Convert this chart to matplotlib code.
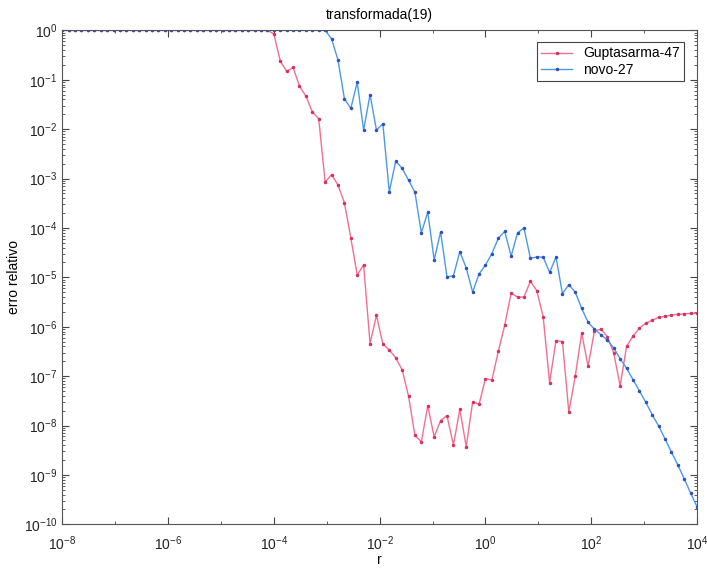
import numpy as np
import matplotlib
matplotlib.use("Agg")
import matplotlib.pyplot as plt
from matplotlib.ticker import LogLocator, NullFormatter

plt.rcParams['font.family'] = ['Liberation Sans', 'DejaVu Sans']
plt.rcParams['mathtext.fontset'] = 'custom'
plt.rcParams['mathtext.rm'] = 'Liberation Sans'
plt.rcParams['mathtext.it'] = 'Liberation Sans'
plt.rcParams['mathtext.default'] = 'regular'

# malha de r: 100 pontos de 1e-8 a 1e4
r = np.logspace(-8, 4, 100)

# log10 do erro relativo
log_gupta = [0.0] * 33 + [
    -0.07, -0.62, -0.83, -0.75, -1.13, -1.33, -1.65, -1.79,
    -3.07, -2.92, -3.13, -3.49, -4.2, -4.95, -4.75, -6.34, -5.77, -6.35,
    -6.47, -6.63, -6.87, -7.4, -8.2, -8.33, -7.6, -8.23, -7.9, -7.8,
    -8.4, -7.67, -8.43, -7.52, -7.57, -7.05, -7.08, -6.5, -5.97, -5.32,
    -5.4, -5.4, -5.08, -5.27, -5.8, -7.13, -6.28, -6.3, -7.73, -7.0,
    -6.13, -6.8, -6.08, -6.05, -6.2, -6.53, -7.2, -6.4, -6.19, -6.03,
    -5.93, -5.87, -5.81, -5.79, -5.76, -5.75, -5.74, -5.73, -5.73]

log_novo = [0.0] * 42 + [
    -0.17, -0.6, -1.38, -1.58, -1.05, -2.02, -1.3, -2.02, -1.89,
    -3.27, -2.65, -2.79, -3.03, -3.28, -4.1, -3.68, -4.65, -4.08, -4.99,
    -4.97, -4.48, -4.81, -5.3, -4.93, -4.75, -4.52, -4.21, -4.07, -4.57,
    -4.1, -4.0, -4.61, -4.59, -4.59, -4.9, -4.59, -5.33, -5.15, -5.3,
    -5.63, -5.91, -6.05, -6.16, -6.27, -6.43, -6.65, -6.84, -7.07, -7.3,
    -7.53, -7.78, -8.01, -8.27, -8.54, -8.8, -9.08, -9.37, -9.65]

err_gupta = 10.0 ** np.array(log_gupta)
err_novo = 10.0 ** np.array(log_novo)

fig = plt.figure(figsize=(7.07, 5.73), dpi=100)
ax = fig.add_axes([0.088, 0.085, 0.898, 0.862])

ax.loglog(r, err_gupta, '.-', color='#f27090', lw=1.0, ms=3,
          mfc='#d83060', mec='#d83060', label='Guptasarma-47')
ax.loglog(r, err_novo, '.-', color='#4a9ae8', lw=1.0, ms=3,
          mfc='#3050c0', mec='#3050c0', label='novo-27')

ax.set_xlim(1e-8, 1e4)
ax.set_ylim(1e-10, 1e0)
ax.set_xticks([1e-8, 1e-6, 1e-4, 1e-2, 1e0, 1e2, 1e4])
ax.xaxis.set_minor_locator(LogLocator(base=10, subs=(1.0,), numticks=30))
ax.xaxis.set_minor_formatter(NullFormatter())
ax.yaxis.set_major_locator(LogLocator(base=10, numticks=15))
ax.yaxis.set_minor_locator(LogLocator(base=10, subs=np.arange(2, 10), numticks=15))
ax.yaxis.set_minor_formatter(NullFormatter())

ax.tick_params(which='both', direction='in', top=True, right=True,
               colors='#444444', labelcolor='#222222', labelsize=10)
ax.tick_params(which='major', length=5)
ax.tick_params(which='minor', length=2.5)
ax.tick_params(axis='x', which='major', pad=7)
for s in ax.spines.values():
    s.set_color('#555555')
    s.set_linewidth(0.8)

ax.set_title('transformada(19)', fontsize=10, pad=8)
ax.set_xlabel('r', fontsize=10, labelpad=0)
ax.set_ylabel('erro relativo', fontsize=10, labelpad=2)

leg = ax.legend(loc='upper right', fontsize=10, fancybox=False,
                edgecolor='#444444', framealpha=1, handlelength=2.2,
                borderpad=0.3, labelspacing=0.2, bbox_to_anchor=(0.99, 0.99))
leg.get_frame().set_linewidth(0.8)

fig.savefig('out.png', dpi=100)
